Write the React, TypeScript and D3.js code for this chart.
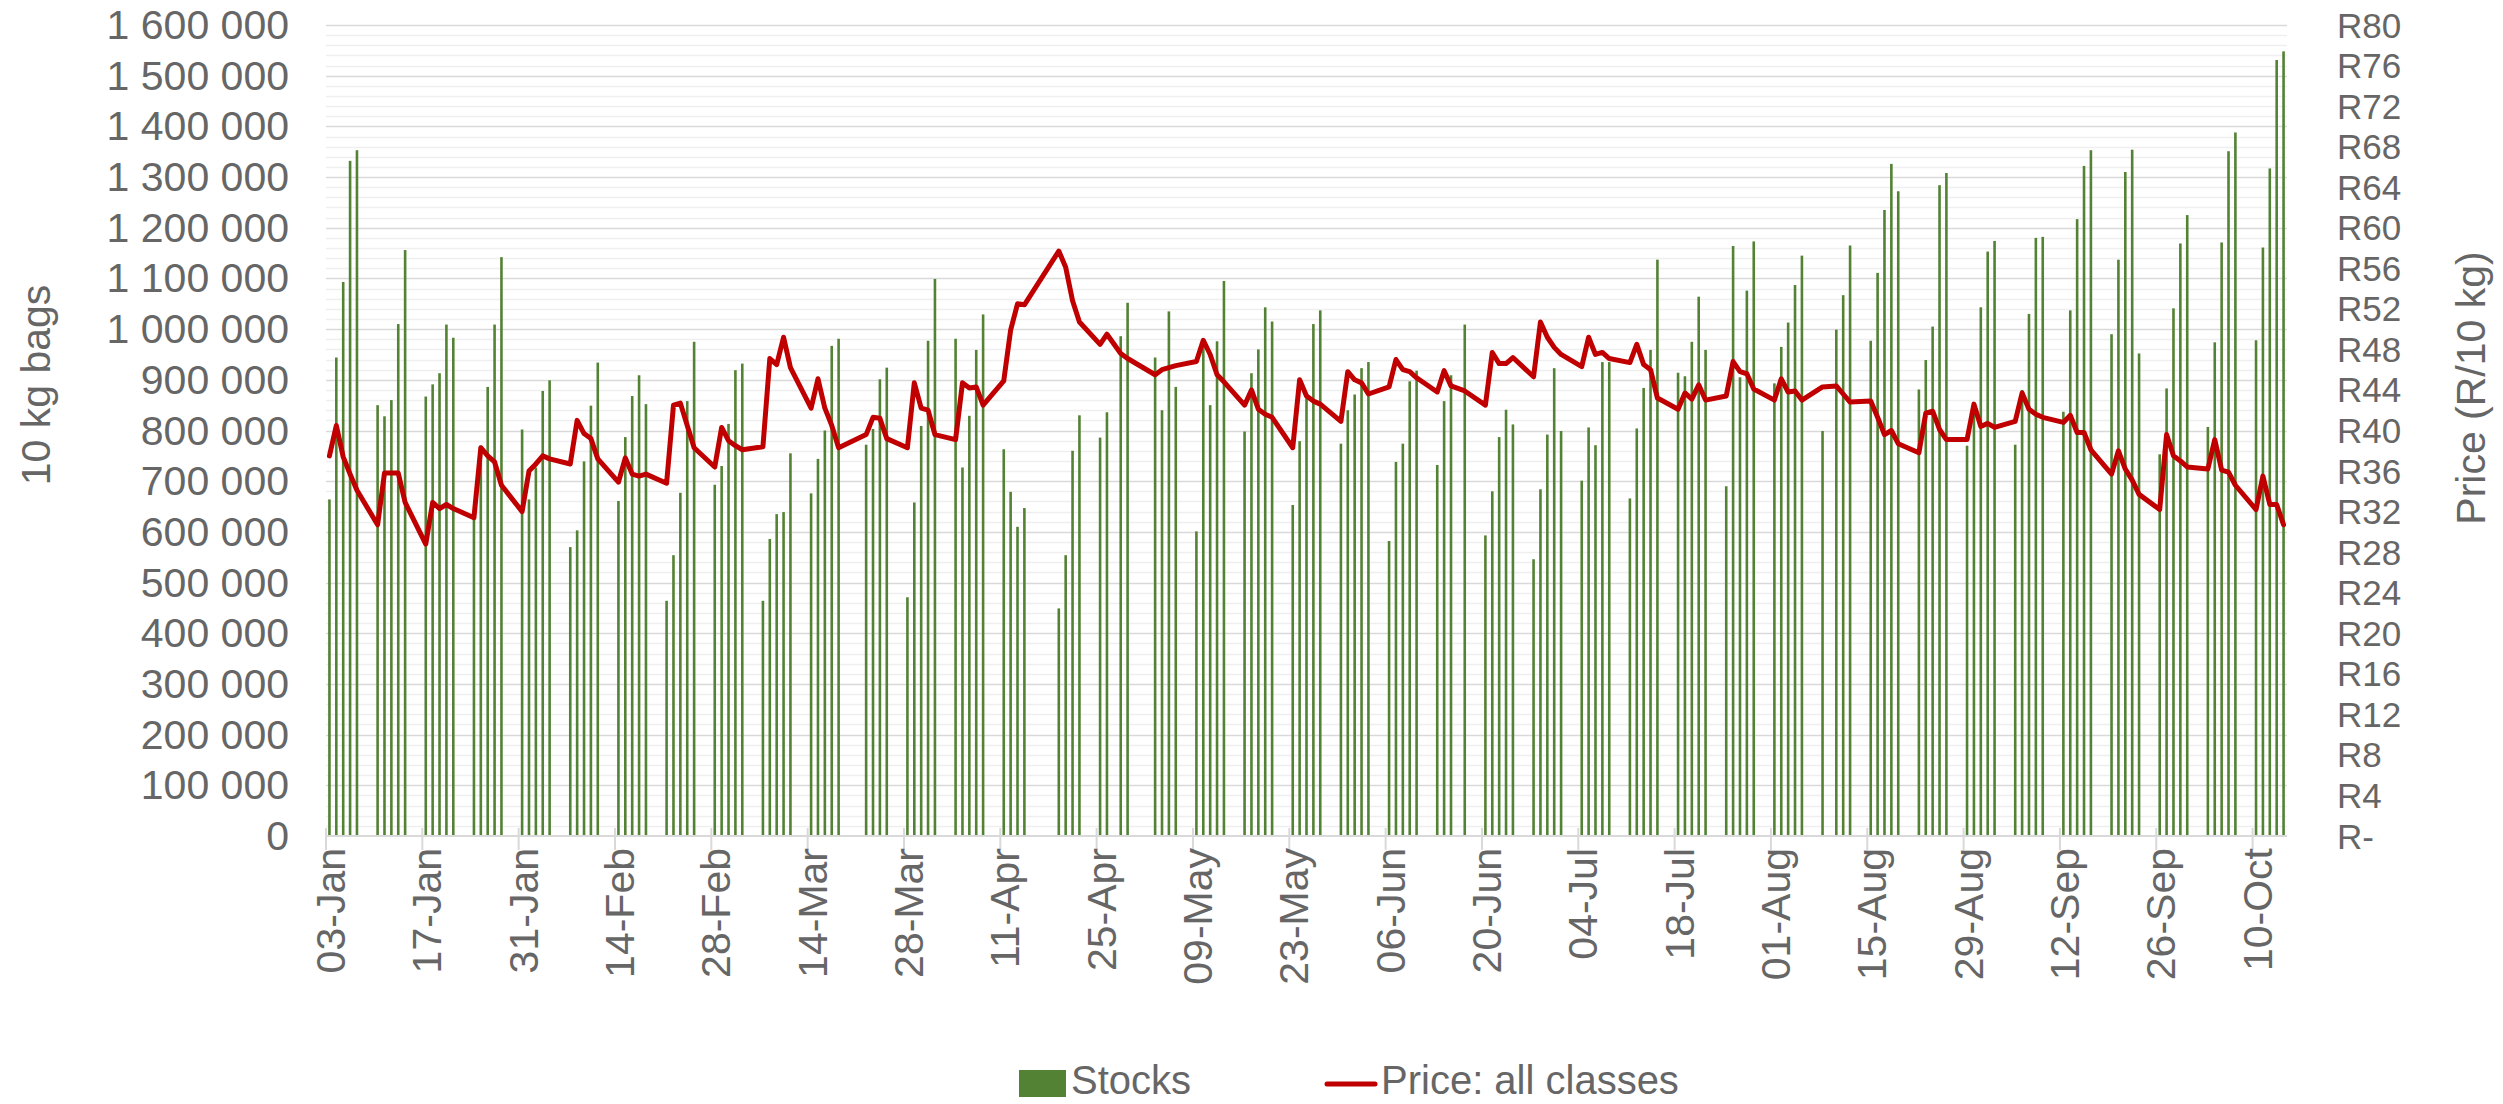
import React, { useRef, useEffect } from 'react';
import * as d3 from 'd3';

// Trading days (2022) with stock volumes (10 kg bags) and price (R/10 kg)
const dates: string[] = [
  "2022-01-03", "2022-01-04", "2022-01-05", "2022-01-06", "2022-01-07",
  "2022-01-10", "2022-01-11", "2022-01-12", "2022-01-13", "2022-01-14",
  "2022-01-17", "2022-01-18", "2022-01-19", "2022-01-20", "2022-01-21",
  "2022-01-24", "2022-01-25", "2022-01-26", "2022-01-27", "2022-01-28",
  "2022-01-31", "2022-02-01", "2022-02-02", "2022-02-03", "2022-02-04",
  "2022-02-07", "2022-02-08", "2022-02-09", "2022-02-10", "2022-02-11",
  "2022-02-14", "2022-02-15", "2022-02-16", "2022-02-17", "2022-02-18",
  "2022-02-21", "2022-02-22", "2022-02-23", "2022-02-24", "2022-02-25",
  "2022-02-28", "2022-03-01", "2022-03-02", "2022-03-03", "2022-03-04",
  "2022-03-07", "2022-03-08", "2022-03-09", "2022-03-10", "2022-03-11",
  "2022-03-14", "2022-03-15", "2022-03-16", "2022-03-17", "2022-03-18",
  "2022-03-22", "2022-03-23", "2022-03-24", "2022-03-25",
  "2022-03-28", "2022-03-29", "2022-03-30", "2022-03-31", "2022-04-01",
  "2022-04-04", "2022-04-05", "2022-04-06", "2022-04-07", "2022-04-08",
  "2022-04-11", "2022-04-12", "2022-04-13", "2022-04-14",
  "2022-04-19", "2022-04-20", "2022-04-21", "2022-04-22",
  "2022-04-25", "2022-04-26", "2022-04-28", "2022-04-29",
  "2022-05-03", "2022-05-04", "2022-05-05", "2022-05-06",
  "2022-05-09", "2022-05-10", "2022-05-11", "2022-05-12", "2022-05-13",
  "2022-05-16", "2022-05-17", "2022-05-18", "2022-05-19", "2022-05-20",
  "2022-05-23", "2022-05-24", "2022-05-25", "2022-05-26", "2022-05-27",
  "2022-05-30", "2022-05-31", "2022-06-01", "2022-06-02", "2022-06-03",
  "2022-06-06", "2022-06-07", "2022-06-08", "2022-06-09", "2022-06-10",
  "2022-06-13", "2022-06-14", "2022-06-15", "2022-06-17",
  "2022-06-20", "2022-06-21", "2022-06-22", "2022-06-23", "2022-06-24",
  "2022-06-27", "2022-06-28", "2022-06-29", "2022-06-30", "2022-07-01",
  "2022-07-04", "2022-07-05", "2022-07-06", "2022-07-07", "2022-07-08",
  "2022-07-11", "2022-07-12", "2022-07-13", "2022-07-14", "2022-07-15",
  "2022-07-18", "2022-07-19", "2022-07-20", "2022-07-21", "2022-07-22",
  "2022-07-25", "2022-07-26", "2022-07-27", "2022-07-28", "2022-07-29",
  "2022-08-01", "2022-08-02", "2022-08-03", "2022-08-04", "2022-08-05",
  "2022-08-08", "2022-08-10", "2022-08-11", "2022-08-12",
  "2022-08-15", "2022-08-16", "2022-08-17", "2022-08-18", "2022-08-19",
  "2022-08-22", "2022-08-23", "2022-08-24", "2022-08-25", "2022-08-26",
  "2022-08-29", "2022-08-30", "2022-08-31", "2022-09-01", "2022-09-02",
  "2022-09-05", "2022-09-06", "2022-09-07", "2022-09-08", "2022-09-09",
  "2022-09-12", "2022-09-13", "2022-09-14", "2022-09-15", "2022-09-16",
  "2022-09-19", "2022-09-20", "2022-09-21", "2022-09-22", "2022-09-23",
  "2022-09-26", "2022-09-27", "2022-09-28", "2022-09-29", "2022-09-30",
  "2022-10-03", "2022-10-04", "2022-10-05", "2022-10-06", "2022-10-07",
  "2022-10-10", "2022-10-11", "2022-10-12", "2022-10-13", "2022-10-14"
];

const stocks: number[] = [
  664000, 944000, 1093000, 1332000, 1353000,
  850000, 828000, 860000, 1010000, 1156000,
  867000, 891000, 913000, 1009000, 983000,
  627000, 770000, 886000, 1009000, 1142000,
  802000, 664000, 727000, 878000, 899000,
  570000, 603000, 739000, 849000, 934000,
  661000, 787000, 868000, 909000, 852000,
  464000, 554000, 677000, 858000, 975000,
  693000, 730000, 813000, 919000, 932000,
  464000, 586000, 635000, 639000, 755000,
  676000, 744000, 800000, 967000, 981000,
  772000, 803000, 901000, 924000,
  471000, 658000, 809000, 977000, 1099000,
  981000, 727000, 829000, 959000, 1029000,
  763000, 679000, 610000, 647000,
  449000, 554000, 760000, 830000,
  786000, 836000, 986000, 1052000,
  944000, 840000, 1035000, 886000,
  601000, 975000, 850000, 976000, 1095000,
  798000, 913000, 960000, 1043000, 1015000,
  653000, 779000, 864000, 1010000, 1037000,
  774000, 840000, 871000, 923000, 935000,
  582000, 738000, 774000, 897000, 918000,
  732000, 858000, 909000, 1009000,
  593000, 680000, 787000, 841000, 812000,
  546000, 684000, 792000, 923000, 799000,
  701000, 806000, 771000, 935000, 935000,
  666000, 804000, 884000, 959000, 1137000,
  914000, 907000, 975000, 1064000, 959000,
  690000, 1164000, 905000, 1076000, 1173000,
  893000, 965000, 1013000, 1087000, 1145000,
  799000, 999000, 1067000, 1165000,
  977000, 1111000, 1235000, 1326000, 1272000,
  881000, 939000, 1005000, 1284000, 1308000,
  770000, 850000, 1043000, 1153000, 1174000,
  772000, 880000, 1030000, 1180000, 1182000,
  837000, 1037000, 1217000, 1322000, 1353000,
  990000, 1137000, 1310000, 1354000, 952000,
  753000, 883000, 1041000, 1169000, 1225000,
  807000, 974000, 1171000, 1351000, 1388000,
  978000, 1161000, 1317000, 1531000, 1548000
];

const prices: number[] = [
  37.5, 40.5, 37.4, 35.7, 34.1,
  30.7, 35.8, 35.8, 35.8, 32.9,
  28.8, 32.9, 32.3, 32.7, 32.3,
  31.4, 38.3, 37.5, 36.9, 34.6,
  32.0, 36.0, 36.7, 37.5, 37.2,
  36.7, 41.0, 39.7, 39.2, 37.2,
  34.9, 37.3, 35.7, 35.5, 35.7,
  34.8, 42.5, 42.7, 40.5, 38.3,
  36.4, 40.3, 39.0, 38.5, 38.1,
  38.4, 47.1, 46.5, 49.2, 46.2,
  42.2, 45.1, 42.2, 40.5, 38.3,
  39.6, 41.3, 41.2, 39.2,
  38.3, 44.7, 42.2, 42.0, 39.6,
  39.1, 44.7, 44.2, 44.3, 42.5,
  44.9, 49.9, 52.5, 52.4,
  57.7, 56.1, 52.8, 50.7,
  48.5, 49.5, 47.6, 47.1,
  45.5, 46.0, 46.2, 46.4,
  46.8, 48.9, 47.5, 45.5, 44.8,
  42.5, 44.0, 42.1, 41.6, 41.3,
  38.3, 45.0, 43.4, 42.9, 42.6,
  40.9, 45.8, 45.0, 44.7, 43.6,
  44.3, 47.0, 46.0, 45.8, 45.2,
  43.8, 45.9, 44.4, 43.9,
  42.5, 47.7, 46.6, 46.6, 47.2,
  45.3, 50.7, 49.2, 48.2, 47.5,
  46.3, 49.2, 47.5, 47.7, 47.1,
  46.7, 48.5, 46.5, 46.0, 43.2,
  42.1, 43.7, 43.1, 44.5, 43.0,
  43.4, 46.8, 45.8, 45.6, 44.1,
  43.0, 45.1, 43.8, 43.9, 43.0,
  44.3, 44.4, 43.6, 42.8,
  42.9, 41.3, 39.6, 40.0, 38.7,
  37.8, 41.7, 41.9, 40.1, 39.1,
  39.1, 42.6, 40.4, 40.7, 40.3,
  40.9, 43.7, 42.1, 41.6, 41.3,
  40.8, 41.5, 39.8, 39.8, 38.1,
  35.7, 38.0, 36.2, 35.1, 33.7,
  32.2, 39.6, 37.5, 37.0, 36.4,
  36.2, 39.1, 36.1, 35.9, 34.6,
  32.2, 35.5, 32.7, 32.7, 30.7
];

const stockTicks = d3.range(0, 1600001, 100000);
const priceTicks = d3.range(0, 81, 4);

const App = () => {
  const svgRef = useRef<SVGSVGElement>(null);

  useEffect(() => {
    const svg = d3.select(svgRef.current);
    svg.selectAll("*").remove();

    const width = 2503;
    const height = 1104;
    const left = 326, right = 2287, top = 25, bottom = 836;
    const font = "'Liberation Sans', Arial, sans-serif";
    const textColor = "#666666";

    svg.attr("width", width).attr("height", height);
    svg.append("rect").attr("width", width).attr("height", height).attr("fill", "#fff");

    const parse = d3.utcParse("%Y-%m-%d");
    const data = dates.map((d, i) => ({
      date: parse(d) as Date,
      stock: stocks[i],
      price: prices[i]
    }));

    const start = parse("2022-01-03") as Date;
    const end = parse("2022-10-15") as Date;
    const x = d3.scaleUtc().domain([start, end]).range([left, right]);
    const yL = d3.scaleLinear().domain([0, 1600000]).range([bottom, top]);
    const yR = d3.scaleLinear().domain([0, 80]).range([bottom, top]);

    // bar / point sits in the middle of its day
    const cx = (d: Date) => x(d3.utcHour.offset(d, 12));

    // minor and major gridlines
    const minor = d3.range(0, 1600001, 20000).filter(v => v % 100000 !== 0);
    svg.append("g")
      .selectAll("line")
      .data(minor)
      .enter()
      .append("line")
      .attr("x1", left).attr("x2", right)
      .attr("y1", d => Math.round(yL(d)) + 0.5)
      .attr("y2", d => Math.round(yL(d)) + 0.5)
      .attr("stroke", "#efefef")
      .attr("stroke-width", 1.5);

    svg.append("g")
      .selectAll("line")
      .data(stockTicks.filter(v => v > 0))
      .enter()
      .append("line")
      .attr("x1", left).attr("x2", right)
      .attr("y1", d => Math.round(yL(d)) + 0.5)
      .attr("y2", d => Math.round(yL(d)) + 0.5)
      .attr("stroke", "#d9d9d9")
      .attr("stroke-width", 1.5);

    // stock bars
    const barW = 2.6;
    svg.append("g")
      .selectAll("rect")
      .data(data)
      .enter()
      .append("rect")
      .attr("x", d => cx(d.date) - barW / 2)
      .attr("y", d => yL(d.stock))
      .attr("width", barW)
      .attr("height", d => bottom - yL(d.stock))
      .attr("fill", "#548235");

    // x axis line and ticks
    svg.append("line")
      .attr("x1", left).attr("x2", right)
      .attr("y1", bottom).attr("y2", bottom)
      .attr("stroke", "#d9d9d9")
      .attr("stroke-width", 2);

    const xTicks = d3.range(0, 21).map(i => d3.utcDay.offset(start, i * 14));
    svg.append("g")
      .selectAll("line")
      .data(xTicks)
      .enter()
      .append("line")
      .attr("x1", d => x(d)).attr("x2", d => x(d))
      .attr("y1", bottom - 8).attr("y2", bottom + 14)
      .attr("stroke", "#d9d9d9")
      .attr("stroke-width", 2);

    // price line
    const line = d3.line<{ date: Date; price: number }>()
      .x(d => cx(d.date))
      .y(d => yR(d.price));
    svg.append("path")
      .datum(data)
      .attr("d", line)
      .attr("fill", "none")
      .attr("stroke", "#c00000")
      .attr("stroke-width", 5)
      .attr("stroke-linejoin", "round")
      .attr("stroke-linecap", "round");

    // x tick labels
    const fmtDate = d3.utcFormat("%d-%b");
    svg.append("g")
      .selectAll("text")
      .data(xTicks)
      .enter()
      .append("text")
      .attr("transform", d => `translate(${x(d) + 5},${bottom + 12}) rotate(-90)`)
      .attr("text-anchor", "end")
      .attr("dominant-baseline", "central")
      .style("font-family", font)
      .style("font-size", "41px")
      .style("fill", textColor)
      .text(d => fmtDate(d));

    // left axis labels
    const spaceFmt = d3.formatLocale({
      decimal: ".",
      thousands: " ",
      grouping: [3],
      currency: ["", ""]
    }).format(",");
    svg.append("g")
      .selectAll("text")
      .data(stockTicks)
      .enter()
      .append("text")
      .attr("x", 289)
      .attr("y", d => yL(d))
      .attr("text-anchor", "end")
      .attr("dominant-baseline", "central")
      .style("font-family", font)
      .style("font-size", "41px")
      .style("fill", textColor)
      .text(d => spaceFmt(d));

    // right axis labels (tight spacing, so a touch smaller)
    svg.append("g")
      .selectAll("text")
      .data(priceTicks)
      .enter()
      .append("text")
      .attr("x", 2337)
      .attr("y", d => yR(d))
      .attr("text-anchor", "start")
      .attr("dominant-baseline", "central")
      .style("font-family", font)
      .style("font-size", "35px")
      .style("fill", textColor)
      .text(d => (d === 0 ? "R-" : `R${d}`));

    // axis titles
    svg.append("text")
      .attr("transform", "translate(36,385) rotate(-90)")
      .attr("text-anchor", "middle")
      .attr("dominant-baseline", "central")
      .style("font-family", font)
      .style("font-size", "41px")
      .style("fill", textColor)
      .text("10 kg bags");

    svg.append("text")
      .attr("transform", "translate(2471,388) rotate(-90)")
      .attr("text-anchor", "middle")
      .attr("dominant-baseline", "central")
      .style("font-family", font)
      .style("font-size", "41px")
      .style("fill", textColor)
      .text("Price (R/10 kg)");

    // legend
    const legendY = 1080;
    svg.append("rect")
      .attr("x", 1019).attr("y", legendY - 10)
      .attr("width", 47).attr("height", 27)
      .attr("fill", "#548235");
    svg.append("text")
      .attr("x", 1071).attr("y", legendY)
      .attr("dominant-baseline", "central")
      .style("font-family", font)
      .style("font-size", "40px")
      .style("fill", textColor)
      .text("Stocks");
    svg.append("line")
      .attr("x1", 1327).attr("x2", 1375)
      .attr("y1", legendY + 4).attr("y2", legendY + 4)
      .attr("stroke", "#c00000")
      .attr("stroke-width", 5)
      .attr("stroke-linecap", "round");
    svg.append("text")
      .attr("x", 1381).attr("y", legendY)
      .attr("dominant-baseline", "central")
      .style("font-family", font)
      .style("font-size", "40px")
      .style("fill", textColor)
      .text("Price: all classes");
  }, []);

  return (
    <div style={{ position: "absolute", left: 0, top: 0 }}>
      <svg ref={svgRef} style={{ display: "block" }}></svg>
    </div>
  );
};

export default App;
